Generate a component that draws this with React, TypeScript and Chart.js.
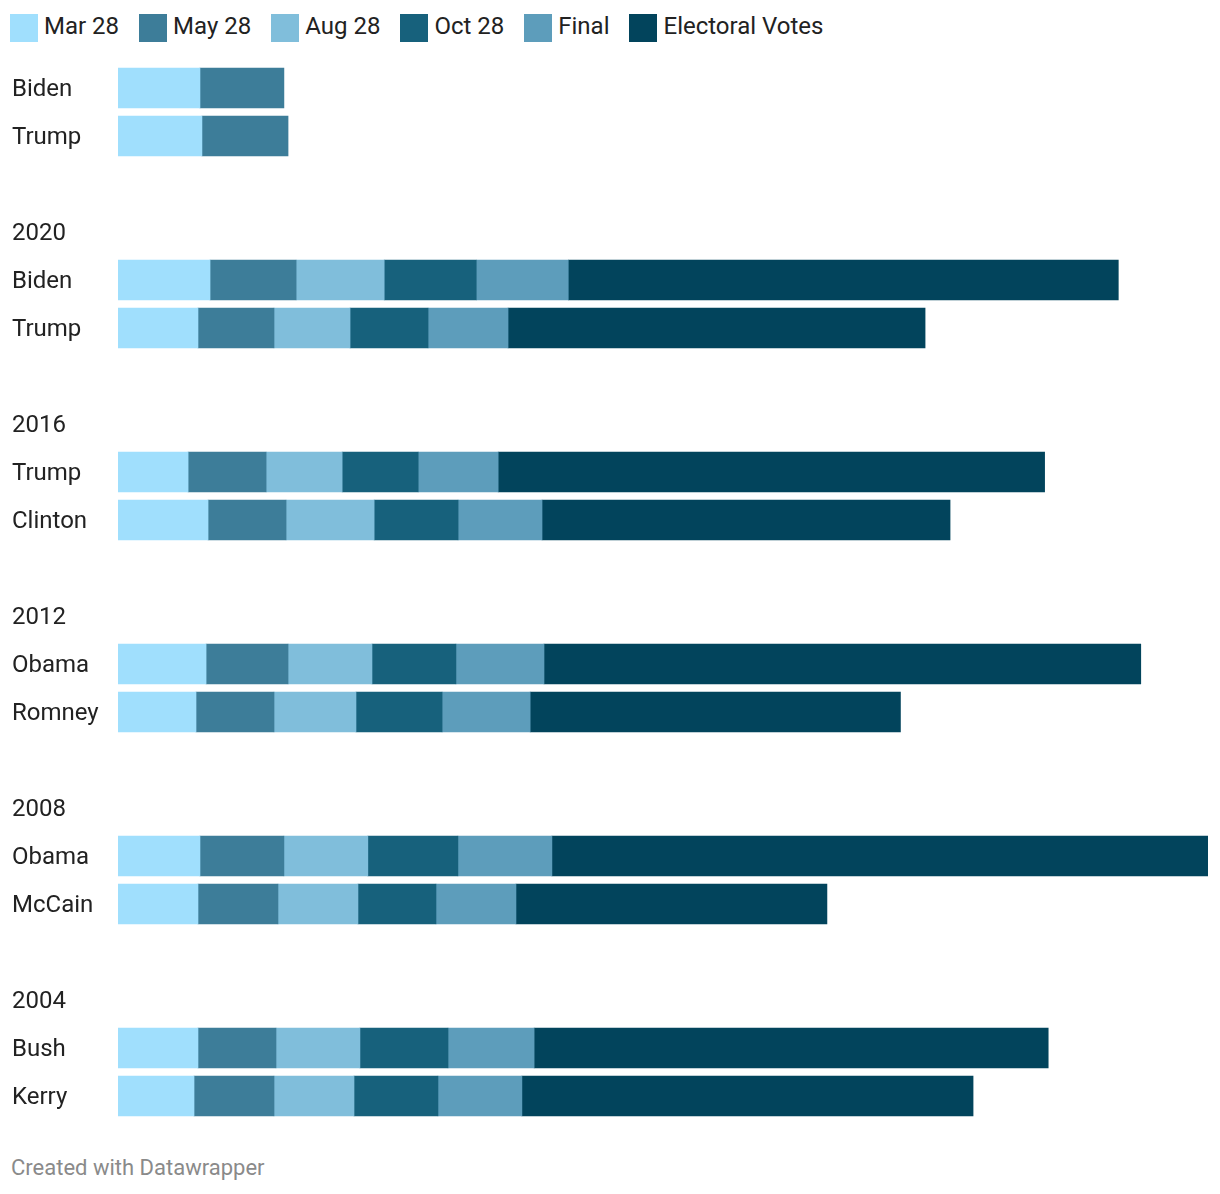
import React, { useEffect, useRef } from "react";
import { Chart, registerables } from "chart.js";

Chart.register(...registerables);

const rowLabels = [
  "Biden", "Trump", "",
  "2020", "Biden", "Trump", "",
  "2016", "Trump", "Clinton", "",
  "2012", "Obama", "Romney", "",
  "2008", "Obama", "McCain", "",
  "2004", "Bush", "Kerry",
];

const mar28 = [45.6, 46.7, null, null, 51.2, 44.5, null, null, 39.0, 50.1, null, null, 49.0, 43.4, null, null, 45.6, 44.5, null, null, 44.5, 42.3];
const may28 = [46.7, 47.9, null, null, 47.9, 42.3, null, null, 43.4, 43.4, null, null, 45.6, 43.4, null, null, 46.7, 44.5, null, null, 43.4, 44.5];
const aug28 = [null, null, null, null, 49.0, 42.3, null, null, 42.3, 49.0, null, null, 46.7, 45.6, null, null, 46.7, 44.5, null, null, 46.7, 44.5];
const oct28 = [null, null, null, null, 51.2, 43.4, null, null, 42.3, 46.7, null, null, 46.7, 47.9, null, null, 50.1, 43.4, null, null, 49.0, 46.7];
const finalPoll = [null, null, null, null, 51.2, 44.5, null, null, 44.5, 46.7, null, null, 49.0, 49.0, null, null, 52.3, 44.5, null, null, 47.9, 46.7];
const electoralVotes = [null, null, null, null, 306, 232, null, null, 304, 227, null, null, 332, 206, null, null, 365, 173, null, null, 286, 251];

const seriesNames = ["Mar 28", "May 28", "Aug 28", "Oct 28", "Final", "Electoral Votes"];
const seriesColors = ["#a0dffd", "#3d7d99", "#80bedb", "#17617c", "#5d9dbb", "#02445c"];

const FONT = "Roboto, 'Noto Sans', sans-serif";

export default function App() {
  const ref = useRef<HTMLCanvasElement | null>(null);

  useEffect(() => {
    if (!ref.current) return;
    const series = [mar28, may28, aug28, oct28, finalPoll, electoralVotes];
    const totals = rowLabels.map((_, i) => series.reduce((s, arr) => s + (arr[i] ?? 0), 0));
    const maxTotal = Math.max(...totals);
    const chart = new Chart(ref.current, {
      type: "bar",
      data: {
        labels: rowLabels,
        datasets: series.map((d, k) => ({
          label: seriesNames[k],
          data: d,
          backgroundColor: seriesColors[k],
          borderWidth: 0,
          barThickness: 40,
        })),
      },
      options: {
        indexAxis: "y",
        animation: false,
        responsive: false,
        maintainAspectRatio: false,
        layout: { padding: { left: 12, right: 12, top: 0, bottom: 0 } },
        plugins: {
          legend: { display: false },
          tooltip: { enabled: false },
        },
        scales: {
          x: {
            stacked: true,
            min: 0,
            max: maxTotal,
            display: false,
          },
          y: {
            stacked: true,
            grid: { display: false },
            border: { display: false },
            afterFit: (scale: any) => {
              scale.width = 106;
              scale.paddingTop = 0;
              scale.paddingBottom = 0;
            },
            ticks: {
              crossAlign: "far",
              padding: 0,
              labelOffset: 2,
              color: "#222222",
              font: { family: FONT, size: 24 },
              autoSkip: false,
            },
          },
        },
      },
    });
    return () => chart.destroy();
  }, []);

  return (
    <div style={{ position: "absolute", left: 0, top: 0, width: 1220, height: 1194, background: "#fff", fontFamily: FONT }}>
      <div style={{ position: "absolute", left: 10, top: 14, display: "flex", alignItems: "center", height: 28 }}>
        {seriesNames.map((n, k) => (
          <div key={n} style={{ display: "flex", alignItems: "center", marginRight: 20 }}>
            <span style={{ width: 28, height: 28, background: seriesColors[k], display: "inline-block", marginRight: 6 }} />
            <span style={{ fontSize: 24, color: "#222", lineHeight: "28px", marginTop: -4 }}>{n}</span>
          </div>
        ))}
      </div>
      <canvas ref={ref} width={1220} height={1056} style={{ position: "absolute", left: 0, top: 64, width: 1220, height: 1056 }} />
      <div style={{ position: "absolute", left: 11, top: 1155, fontSize: 22, color: "#8a8a8a", lineHeight: "26px" }}>
        Created with Datawrapper
      </div>
    </div>
  );
}
